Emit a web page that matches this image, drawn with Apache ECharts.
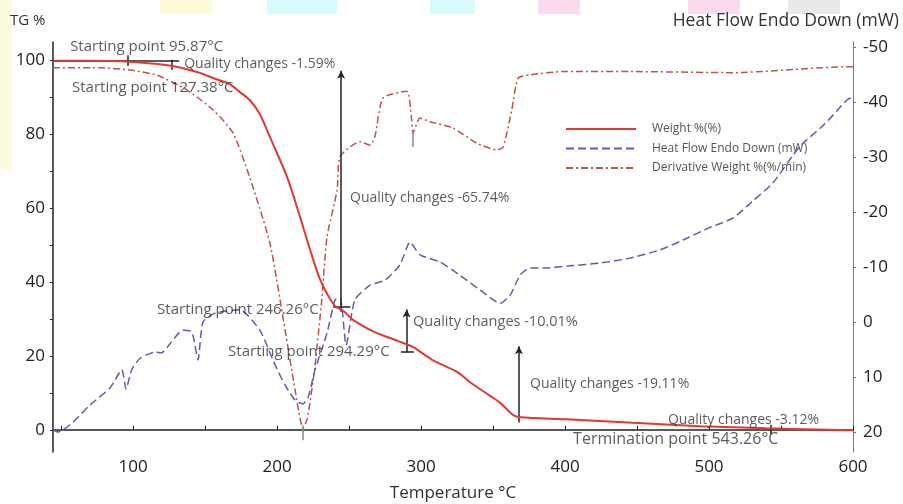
<!DOCTYPE html>
<html>
<head>
<meta charset="utf-8">
<script src="https://cdn.jsdelivr.net/npm/echarts@6/dist/echarts.min.js"></script>
<style>html,body{margin:0;padding:0;background:#fff;overflow:hidden}#c{width:903px;height:504px}</style>
</head>
<body>
<div id="c"></div>
<script>
// ---- data (temperature °C, value) ----
const weight = [[44.4,99.9],[70,99.9],[100,99.6],[115,99.1],[130,98.3],[145,96.8],[156,95.2],[167,93.6],[174,91.5],[181,89.3],[188,85.5],[195,79.3],[207,68.4],[216,57.6],[223,48.7],[230,40.6],[240,33.6],[246,32.2],[253,29.7],[267,26.6],[285,23.9],[294,22.5],[308,18.9],[325,15.7],[334,12.9],[348,9.2],[355,7.3],[364,4.0],[369,3.4],[401,2.85],[447,1.9],[494,1.0],[540,0.4],[600,-0.1]];
const heatFlow = [[44.4,19.5],[47.9,19.9],[56.3,18.6],[70.1,15],[84,11.9],[92.2,8.6],[95.1,12.1],[99.1,8.6],[104.9,6.5],[115.3,5.4],[119.9,5.5],[123.4,4.6],[134.7,1.4],[140.8,1.7],[145.1,6.8],[148.6,-0.1],[157,-1.7],[174,-2.3],[188,1.4],[198.6,7.7],[205.6,11.4],[212.5,14.1],[218,14.8],[221.5,13.7],[226.4,8.6],[234.7,1.9],[240.3,-4.1],[243.8,-4.5],[248,4.1],[254,-4.1],[264.6,-6.8],[275,-7.7],[285.4,-10.5],[292.4,-14.6],[299.3,-12.3],[313.2,-11],[327,-8.6],[341,-5.9],[354.9,-3.5],[362,-5],[368.8,-8.6],[375.7,-9.9],[386,-9.9],[403.5,-10.3],[424.3,-10.8],[445,-11.7],[466,-13.2],[482,-15],[500,-17.2],[516.7,-19],[530,-22],[544.4,-25.4],[563,-32],[580,-36],[596,-40.5],[600,-41]];
const derivative = [[44.4,98],[77,98],[98,97.4],[116.7,96],[137.5,92],[155.6,86.6],[169.4,80.4],[181,68.4],[195,50.6],[205.6,27],[212.5,10.8],[216,3],[218,0.5],[221,3],[226,16.2],[231,35],[234.7,52.2],[241.7,64.9],[243.8,74],[257.6,78],[264.6,77.1],[268,79.4],[273.6,89.8],[290,91.7],[293.5,83.9],[294.4,80.4],[299.3,84.4],[306.2,83.4],[322.2,81.7],[338.7,77.6],[352.6,75.8],[357,76.6],[363,86.6],[367.4,95.2],[375.7,96.1],[398.6,97],[445,97],[516.7,96.7],[595.8,98.3],[600,98.3]];
const xTicks = [50,100,150,200,250,300,350,400,450,500,550,600];
const xLabels = [100,200,300,400,500,600];
const yLeftTicks = [0,10,20,30,40,50,60,70,80,90,100];
const yLeftLabels = [0,20,40,60,80,100];
const yRightLabels = [-50,-40,-30,-20,-10,0,10,20];
const seriesNames = ['Weight %(%)','Heat Flow Endo Down (mW)','Derivative Weight %(%/min)'];
// annotation texts: [temperature, TG value, text, font size]
const notes = [
  [56.3,103.6,'Starting point 95.87°C',15],
  [135.5,99.0,'Quality changes -1.59%',14],
  [57.6,92.6,'Starting point 127.38°C',15],
  [250.7,62.8,'Quality changes -65.74%',14],
  [116.7,32.4,'Starting point 246.26°C',15],
  [166,21.1,'Starting point 294.29°C',15],
  [294.4,29.2,'Quality changes -10.01%',14.5],
  [375.7,12.4,'Quality changes -19.11%',14],
  [471.5,2.7,'Quality changes -3.12%',14],
  [405.6,-2.5,'Termination point 543.26°C',16]
];
// step lines: [temperature, from, to]
const stepArrows = [[244.5,32.0,97.2],[290,21.0,32.6],[368,2.0,22.6]];
const crossTicks = [[96,98.6,101.4],[127,97.5,100.2],[543,-1.2,1.4]];
const hTicks = [[44.4,132,100],[239,251,33.3],[286,295,21.2]];
const grayTicks = [[218,-2.8,1.2],[294.4,76.6,81.2]];

const FONT = 'Open Sans';
const chart = echarts.init(document.getElementById('c'));
const ml = [];
stepArrows.forEach(a => ml.push([{coord:[a[0],a[1]],symbol:'none'},{coord:[a[0],a[2]],symbol:'arrow',symbolSize:[6,8]}]));
crossTicks.forEach(a => ml.push([{coord:[a[0],a[1]],symbol:'none'},{coord:[a[0],a[2]],symbol:'none'}]));
hTicks.forEach(a => ml.push([{coord:[a[0],a[2]],symbol:'none'},{coord:[a[1],a[2]],symbol:'none'}]));
grayTicks.forEach(a => ml.push([{coord:[a[0],a[1]],symbol:'none',lineStyle:{color:'#888'}},{coord:[a[0],a[2]],symbol:'none'}]));

chart.setOption({
  animation:false,
  backgroundColor:'#fff',
  textStyle:{fontFamily:FONT},
  grid:{left:53,top:42,width:800,height:410,containLabel:false,outerBoundsMode:'none'},
  legend:{
    orient:'vertical', left:565, top:123, padding:0, itemWidth:70, itemHeight:14, itemGap:7.5,
    data:seriesNames,
    itemStyle:{opacity:0},
    textStyle:{fontSize:12, color:'#555', fontFamily:FONT, padding:[0,0,0,11]}
  },
  xAxis:{
    type:'value', min:44.4, max:600,
    name:'Temperature °C', nameLocation:'middle', nameGap:33,
    nameTextStyle:{fontSize:17,color:'#333',fontFamily:FONT},
    axisLine:{lineStyle:{color:'#222',width:1.5}},
    axisTick:{customValues:xTicks,inside:true,length:4,lineStyle:{color:'#222'}},
    axisLabel:{customValues:xLabels,fontSize:17,color:'#222',margin:7,fontFamily:FONT},
    splitLine:{show:false}
  },
  yAxis:[{
    type:'value', min:-6, max:105,
    axisLine:{show:true,lineStyle:{color:'#222',width:1.5}},
    axisTick:{show:true,customValues:yLeftTicks,length:3,lineStyle:{color:'#222'}},
    axisLabel:{customValues:yLeftLabels,fontSize:17,color:'#222',margin:8,fontFamily:FONT},
    splitLine:{show:false}
  },{
    type:'value', position:'right', inverse:true, min:-51, max:23.55,
    axisLine:{show:true,lineStyle:{color:'#777',width:1}},
    axisTick:{show:true,customValues:yRightLabels,length:3,lineStyle:{color:'#777'}},
    axisLabel:{customValues:yRightLabels,fontSize:17,color:'#222',margin:10,fontFamily:FONT},
    splitLine:{show:false}
  }],
  graphic:[
    {type:'rect',shape:{x:0,y:0,width:12,height:170},style:{fill:'#fcfbdc'},z:-10,silent:true},
    {type:'rect',shape:{x:160,y:0,width:52,height:14},style:{fill:'#fdfbd6'},z:-10,silent:true},
    {type:'rect',shape:{x:267,y:0,width:70,height:14},style:{fill:'#d9fafd'},z:-10,silent:true},
    {type:'rect',shape:{x:430,y:0,width:45,height:14},style:{fill:'#d9fafd'},z:-10,silent:true},
    {type:'rect',shape:{x:538,y:0,width:42,height:14},style:{fill:'#fdd9ef'},z:-10,silent:true},
    {type:'rect',shape:{x:688,y:0,width:52,height:14},style:{fill:'#fdd9ef'},z:-10,silent:true},
    {type:'rect',shape:{x:788,y:0,width:52,height:14},style:{fill:'#e9e9e9'},z:-10,silent:true},
    {type:'text',left:10,top:13,style:{text:'TG %',fontSize:15,fill:'#333',fontFamily:FONT}},
    {type:'text',right:4,top:12,style:{text:'Heat Flow Endo Down (mW)',fontSize:17.5,fill:'#333',fontFamily:FONT}}
  ],
  series:[
    {name:seriesNames[0],type:'line',data:weight,symbol:'none',smooth:0.3,yAxisIndex:0,
     lineStyle:{color:'#e03a30',width:2},itemStyle:{color:'#e03a30'},z:5},
    {name:seriesNames[1],type:'line',data:heatFlow,symbol:'none',smooth:0.2,yAxisIndex:1,
     lineStyle:{color:'#5a5eb3',width:1.5,type:[8,4]},itemStyle:{color:'#5a5eb3'},z:4},
    {name:seriesNames[2],type:'line',data:derivative,symbol:'none',smooth:0.2,yAxisIndex:0,
     lineStyle:{color:'#c2504c',width:1.5,type:[7,3,2,3]},itemStyle:{color:'#c2504c'},z:3},
    {name:'notes',type:'scatter',yAxisIndex:0,symbolSize:0,silent:true,z:6,
     data:notes.map(n=>({value:[n[0],n[1]],name:n[2],label:{fontSize:n[3]}})),
     label:{show:true,position:'right',distance:0,formatter:p=>p.name,fontSize:14,color:'#333',fontFamily:FONT},
     markLine:{silent:true,symbol:'none',animation:false,label:{show:false},
       lineStyle:{color:'#222',width:1.5,type:'solid'},data:ml}
    }
  ]
});
</script>
</body>
</html>
